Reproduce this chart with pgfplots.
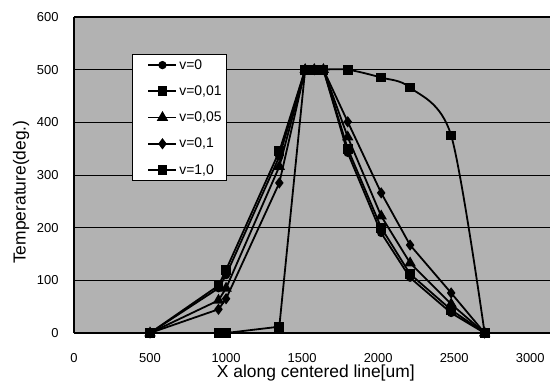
\documentclass[border=0pt]{standalone}
\usepackage{fontspec}
\setmainfont{Liberation Sans}
\usepackage{pgfplots}
\pgfplotsset{compat=1.18}
\usepackage{pgfplotstable}
\pgfplotstableread{
x y
500 0
950 85
1000 110
1350 335
1520 500
1580 500
1640 500
1800 342
2020 190
2210 105
2480 38
2700 0
}\vzero
\pgfplotstableread{
x y
500 0
950 90
1000 120
1350 345
1520 500
1580 500
1640 500
1800 350
2020 200
2210 112
2480 44
2700 0
}\vone
\pgfplotstableread{
x y
500 0
950 62
1000 85
1350 316
1520 500
1580 500
1640 500
1800 372
2020 222
2210 133
2480 55
2700 0
}\vfive
\pgfplotstableread{
x y
500 0
950 45
1000 65
1350 285
1520 500
1580 500
1640 500
1800 401
2020 266
2210 167
2480 76
2700 0
}\vten
\pgfplotstableread{
x y
500 0
950 0
1000 0
1350 12
1520 500
1580 500
1640 500
}\vbigA
\pgfplotstableread{
x y
1640 500
1800 500
2020 485
2210 466
2480 375
2700 0
}\vbigB
\begin{document}
\begin{tikzpicture}
\begin{axis}[
  at={(0,0)}, anchor=south west,
  scale only axis, width=476bp, height=316bp,
  xmin=0, xmax=3130, ymin=0, ymax=600,
  xtick={0,500,...,3000}, ytick={0,100,...,600},
  tick style={draw=none},
  axis x line*=bottom, axis y line*=left,
  ymajorgrids, grid style={black, line width=0.8bp},
  axis background/.style={fill=black!30},
  axis line style={line width=1.8bp},
  /pgf/number format/assume math mode=true,
  /pgf/number format/1000 sep={},
  tick label style={font=\fontsize{13}{15}\selectfont},
  xticklabel style={yshift=-17bp},
  yticklabel style={xshift=-12bp},
  xlabel={X along centered line[um]},
  ylabel={Temperature(deg.)},
  label style={font=\fontsize{17.5}{21}\selectfont},
  xlabel style={at={(axis description cs:0.508,-0.142)}, anchor=base},
  ylabel style={at={(axis description cs:-0.111,0.446)}, anchor=center},
  legend style={at={(0.122,0.883)}, anchor=north west, draw=black, line width=1bp,
    fill=white, font=\fontsize{14}{16}\selectfont, inner sep=3bp,
    row sep=11bp, nodes={inner sep=2bp}},
  legend cell align=left,
  legend image code/.code={\draw[opacity=0] (0bp,0bp) -- (12bp,0bp); \draw[mark repeat=2,mark phase=2] plot coordinates {(12bp,0bp)(26bp,0bp)(40bp,0bp)};},
]
\addplot[black, line width=1.8bp, mark=*, mark size=3.2bp, mark options={solid}] table {\vzero};
\addlegendentry{v=0}
\addplot[black, line width=1.8bp, mark=square*, mark size=4bp, mark options={solid}] table {\vone};
\addlegendentry{v=0,01}
\addplot[black, line width=1.8bp, mark=triangle*, mark size=4.8bp, mark options={solid}] table {\vfive};
\addlegendentry{v=0,05}
\addplot[black, line width=1.8bp, mark=diamond*, mark size=4.2bp, mark options={solid}] table {\vten};
\addlegendentry{v=0,1}
\addplot[black, line width=1.8bp, mark=square*, mark size=4bp, mark options={solid}] table {\vbigA};
\addlegendentry{v=1,0}
\addplot[black, line width=1.8bp, mark=square*, mark size=4bp, mark options={solid}, smooth, forget plot] table {\vbigB};
\draw[line width=1.8bp] (rel axis cs:0,1) -- (rel axis cs:1,1);
\end{axis}
\pgfresetboundingbox
\path[use as bounding box] (-74bp,-50bp) rectangle (476bp,333bp);
\end{tikzpicture}
\end{document}
